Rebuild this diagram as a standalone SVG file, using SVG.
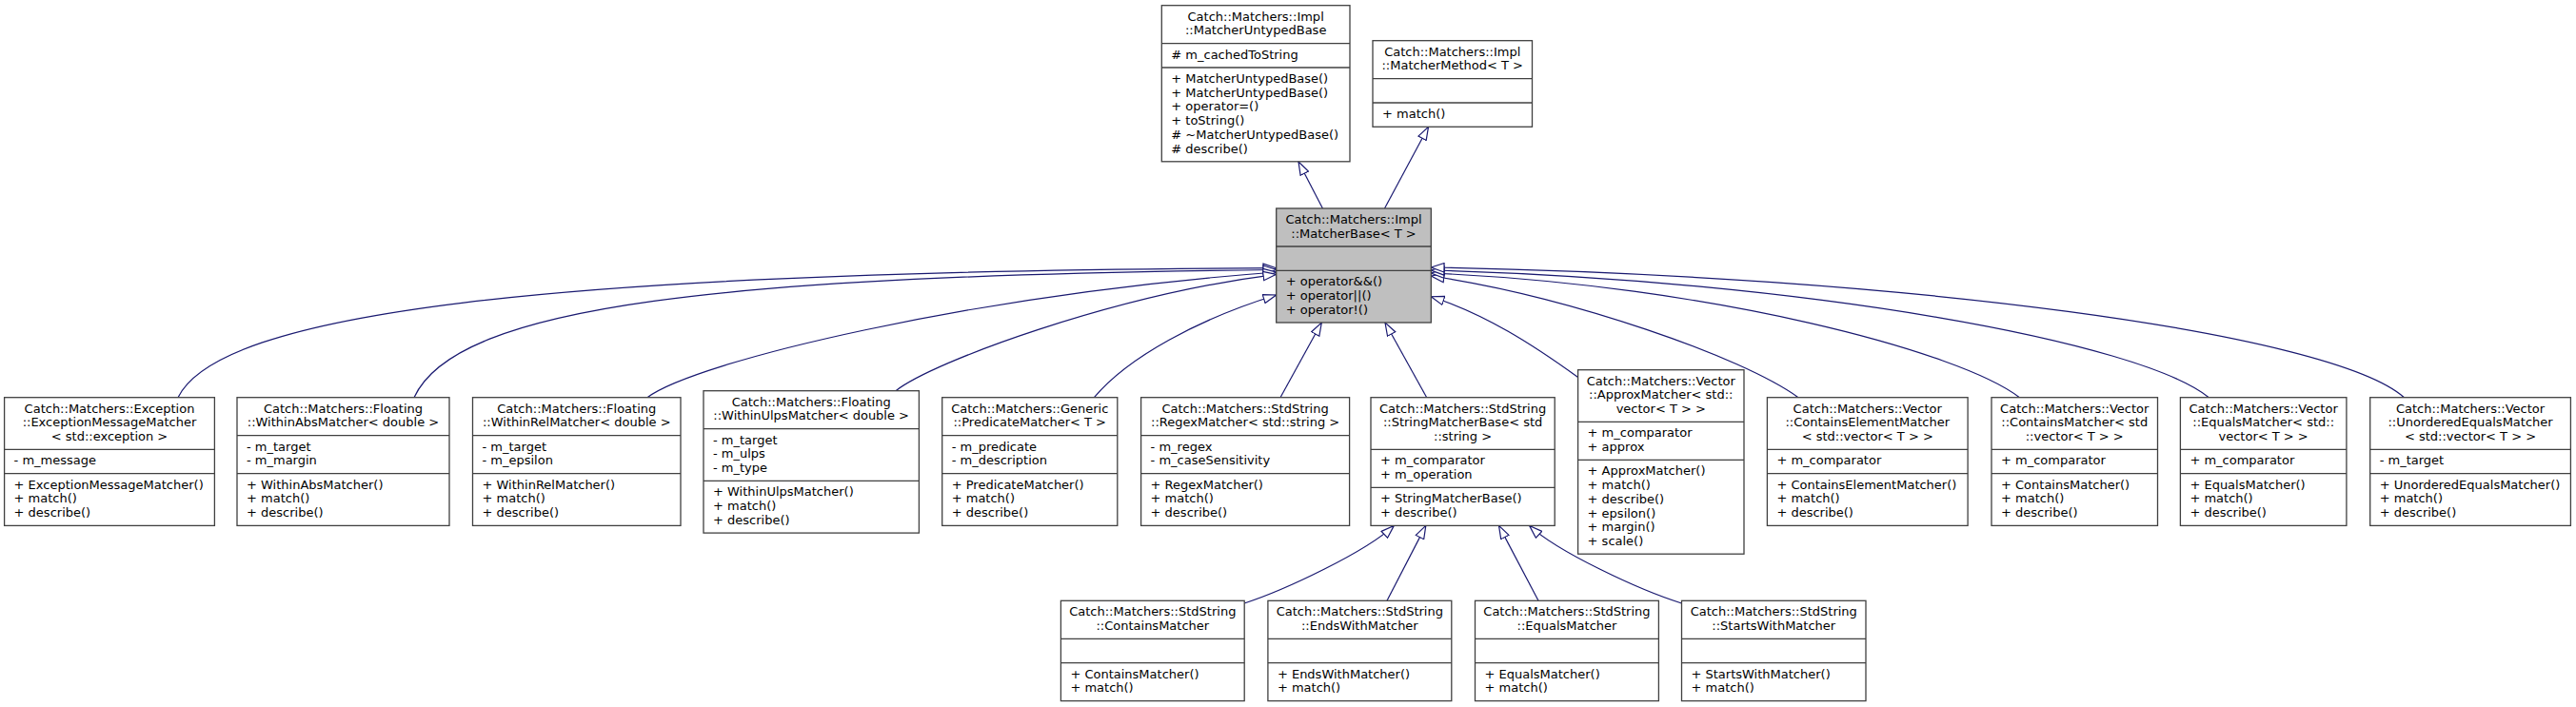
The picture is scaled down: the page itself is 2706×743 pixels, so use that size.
<svg xmlns="http://www.w3.org/2000/svg" width="2706" height="743" viewBox="0 0 2706 743">
<style>
rect{fill:#fff;stroke:#404040;stroke-width:1.3}
rect.hl{fill:#bfbfbf}
line.s{stroke:#404040;stroke-width:1.3}
text{font-family:"DejaVu Sans","Liberation Sans",sans-serif;font-size:13px;fill:#000}
text.c{text-anchor:middle}
.e path{fill:none;stroke:#191970;stroke-width:1.2;marker-end:url(#tri)}
</style>
<defs>
<marker id="tri" viewBox="0 0 15 11" refX="14.3" refY="5.5" markerWidth="15" markerHeight="11" markerUnits="userSpaceOnUse" orient="auto">
<path d="M0.6,0.8 L14.3,5.5 L0.6,10.2 Z" fill="#fff" stroke="#191970" stroke-width="1.2"/>
</marker>
</defs>
<g class="e" id="edges">
<path d="M1389.4,219 L1364,170"/>
<path d="M1454.5,219 L1500.5,133.3"/>
<path d="M187,417.7 C230,330 560,285 1340.7,281.7"/>
<path d="M435,417.7 C480,320 760,290 1340.7,283.5"/>
<path d="M680,417.7 C730,380 1020,310 1340.7,286"/>
<path d="M941,410.7 C980,380 1170,310 1340.7,288.3"/>
<path d="M1149.4,417.7 C1185,375 1260,335 1340.7,310"/>
<path d="M1345,417.7 L1388.3,339"/>
<path d="M1498.7,417.7 L1455,339"/>
<path d="M1657.6,396.5 C1610,362 1560,330 1503.3,311.7"/>
<path d="M1889,417.7 C1830,375 1650,312 1503.3,290"/>
<path d="M2121.4,417.7 C2060,370 1800,300 1503.3,287"/>
<path d="M2320.3,417.7 C2250,360 1900,295 1503.3,284"/>
<path d="M2525.5,417.7 C2450,350 2000,290 1503.3,281"/>
<path d="M1307.2,634 C1350,620 1435,580 1464.3,552.4"/>
<path d="M1457,631.3 L1497.8,552.4"/>
<path d="M1616,631.3 L1574.5,552.4"/>
<path d="M1766.5,634 C1722,620 1636,580 1606.6,552.4"/>
</g>

<g id="MatcherUntypedBase">
<rect x="1220.3" y="5.7" width="197.7" height="164.1"/>
<line class="s" x1="1220.3" y1="45.7" x2="1418" y2="45.7"/>
<line class="s" x1="1220.3" y1="71" x2="1418" y2="71"/>
<text class="c" x="1319.15" y="21.7">Catch::Matchers::Impl</text>
<text class="c" x="1319.15" y="36.4">::MatcherUntypedBase</text>
<text x="1230.3" y="61.7"># m_cachedToString</text>
<text x="1230.3" y="87">+ MatcherUntypedBase()</text>
<text x="1230.3" y="101.7">+ MatcherUntypedBase()</text>
<text x="1230.3" y="116.4">+ operator=()</text>
<text x="1230.3" y="131.1">+ toString()</text>
<text x="1230.3" y="145.8"># ~MatcherUntypedBase()</text>
<text x="1230.3" y="160.5"># describe()</text>
</g>

<g id="MatcherMethod">
<rect x="1442" y="42.7" width="167.5" height="90.6"/>
<line class="s" x1="1442" y1="82.7" x2="1609.5" y2="82.7"/>
<line class="s" x1="1442" y1="108" x2="1609.5" y2="108"/>
<text class="c" x="1525.75" y="58.7">Catch::Matchers::Impl</text>
<text class="c" x="1525.75" y="73.4">::MatcherMethod&lt; T &gt;</text>
<text x="1452" y="124">+ match()</text>
</g>

<g id="MatcherBase">
<rect class="hl" x="1340.7" y="219" width="162.6" height="120"/>
<line class="s" x1="1340.7" y1="259" x2="1503.3" y2="259"/>
<line class="s" x1="1340.7" y1="284.3" x2="1503.3" y2="284.3"/>
<text class="c" x="1422" y="235">Catch::Matchers::Impl</text>
<text class="c" x="1422" y="249.7">::MatcherBase&lt; T &gt;</text>
<text x="1350.7" y="300.3">+ operator&amp;&amp;()</text>
<text x="1350.7" y="315">+ operator||()</text>
<text x="1350.7" y="329.7">+ operator!()</text>
</g>

<g id="ExceptionMessageMatcher">
<rect x="4.6" y="417.7" width="220.8" height="134.7"/>
<line class="s" x1="4.6" y1="472.4" x2="225.4" y2="472.4"/>
<line class="s" x1="4.6" y1="497.7" x2="225.4" y2="497.7"/>
<text class="c" x="115" y="433.7">Catch::Matchers::Exception</text>
<text class="c" x="115" y="448.4">::ExceptionMessageMatcher</text>
<text class="c" x="115" y="463.1">&lt; std::exception &gt;</text>
<text x="14.6" y="488.4">- m_message</text>
<text x="14.6" y="513.7">+ ExceptionMessageMatcher()</text>
<text x="14.6" y="528.4">+ match()</text>
<text x="14.6" y="543.1">+ describe()</text>
</g>

<g id="WithinAbsMatcher">
<rect x="249" y="417.7" width="223" height="134.7"/>
<line class="s" x1="249" y1="457.7" x2="472" y2="457.7"/>
<line class="s" x1="249" y1="497.7" x2="472" y2="497.7"/>
<text class="c" x="360.5" y="433.7">Catch::Matchers::Floating</text>
<text class="c" x="360.5" y="448.4">::WithinAbsMatcher&lt; double &gt;</text>
<text x="259" y="473.7">- m_target</text>
<text x="259" y="488.4">- m_margin</text>
<text x="259" y="513.7">+ WithinAbsMatcher()</text>
<text x="259" y="528.4">+ match()</text>
<text x="259" y="543.1">+ describe()</text>
</g>

<g id="WithinRelMatcher">
<rect x="496.5" y="417.7" width="218.5" height="134.7"/>
<line class="s" x1="496.5" y1="457.7" x2="715" y2="457.7"/>
<line class="s" x1="496.5" y1="497.7" x2="715" y2="497.7"/>
<text class="c" x="605.75" y="433.7">Catch::Matchers::Floating</text>
<text class="c" x="605.75" y="448.4">::WithinRelMatcher&lt; double &gt;</text>
<text x="506.5" y="473.7">- m_target</text>
<text x="506.5" y="488.4">- m_epsilon</text>
<text x="506.5" y="513.7">+ WithinRelMatcher()</text>
<text x="506.5" y="528.4">+ match()</text>
<text x="506.5" y="543.1">+ describe()</text>
</g>

<g id="WithinUlpsMatcher">
<rect x="739" y="410.7" width="226.4" height="149.4"/>
<line class="s" x1="739" y1="450.7" x2="965.4" y2="450.7"/>
<line class="s" x1="739" y1="505.4" x2="965.4" y2="505.4"/>
<text class="c" x="852.2" y="426.7">Catch::Matchers::Floating</text>
<text class="c" x="852.2" y="441.4">::WithinUlpsMatcher&lt; double &gt;</text>
<text x="749" y="466.7">- m_target</text>
<text x="749" y="481.4">- m_ulps</text>
<text x="749" y="496.1">- m_type</text>
<text x="749" y="521.4">+ WithinUlpsMatcher()</text>
<text x="749" y="536.1">+ match()</text>
<text x="749" y="550.8">+ describe()</text>
</g>

<g id="PredicateMatcher">
<rect x="989.7" y="417.7" width="184.1" height="134.7"/>
<line class="s" x1="989.7" y1="457.7" x2="1173.8" y2="457.7"/>
<line class="s" x1="989.7" y1="497.7" x2="1173.8" y2="497.7"/>
<text class="c" x="1081.75" y="433.7">Catch::Matchers::Generic</text>
<text class="c" x="1081.75" y="448.4">::PredicateMatcher&lt; T &gt;</text>
<text x="999.7" y="473.7">- m_predicate</text>
<text x="999.7" y="488.4">- m_description</text>
<text x="999.7" y="513.7">+ PredicateMatcher()</text>
<text x="999.7" y="528.4">+ match()</text>
<text x="999.7" y="543.1">+ describe()</text>
</g>

<g id="RegexMatcher">
<rect x="1198.6" y="417.7" width="219" height="134.7"/>
<line class="s" x1="1198.6" y1="457.7" x2="1417.6" y2="457.7"/>
<line class="s" x1="1198.6" y1="497.7" x2="1417.6" y2="497.7"/>
<text class="c" x="1308.1" y="433.7">Catch::Matchers::StdString</text>
<text class="c" x="1308.1" y="448.4">::RegexMatcher&lt; std::string &gt;</text>
<text x="1208.6" y="473.7">- m_regex</text>
<text x="1208.6" y="488.4">- m_caseSensitivity</text>
<text x="1208.6" y="513.7">+ RegexMatcher()</text>
<text x="1208.6" y="528.4">+ match()</text>
<text x="1208.6" y="543.1">+ describe()</text>
</g>

<g id="StringMatcherBase">
<rect x="1440" y="417.7" width="193.2" height="134.7"/>
<line class="s" x1="1440" y1="472.4" x2="1633.2" y2="472.4"/>
<line class="s" x1="1440" y1="512.4" x2="1633.2" y2="512.4"/>
<text class="c" x="1536.6" y="433.7">Catch::Matchers::StdString</text>
<text class="c" x="1536.6" y="448.4">::StringMatcherBase&lt; std</text>
<text class="c" x="1536.6" y="463.1">::string &gt;</text>
<text x="1450" y="488.4">+ m_comparator</text>
<text x="1450" y="503.1">+ m_operation</text>
<text x="1450" y="528.4">+ StringMatcherBase()</text>
<text x="1450" y="543.1">+ describe()</text>
</g>

<g id="ApproxMatcher">
<rect x="1657.6" y="388.7" width="174.4" height="193.5"/>
<line class="s" x1="1657.6" y1="443.4" x2="1832" y2="443.4"/>
<line class="s" x1="1657.6" y1="483.4" x2="1832" y2="483.4"/>
<text class="c" x="1744.8" y="404.7">Catch::Matchers::Vector</text>
<text class="c" x="1744.8" y="419.4">::ApproxMatcher&lt; std::</text>
<text class="c" x="1744.8" y="434.1">vector&lt; T &gt; &gt;</text>
<text x="1667.6" y="459.4">+ m_comparator</text>
<text x="1667.6" y="474.1">+ approx</text>
<text x="1667.6" y="499.4">+ ApproxMatcher()</text>
<text x="1667.6" y="514.1">+ match()</text>
<text x="1667.6" y="528.8">+ describe()</text>
<text x="1667.6" y="543.5">+ epsilon()</text>
<text x="1667.6" y="558.2">+ margin()</text>
<text x="1667.6" y="572.9">+ scale()</text>
</g>

<g id="ContainsElementMatcher">
<rect x="1856.4" y="417.7" width="210.7" height="134.7"/>
<line class="s" x1="1856.4" y1="472.4" x2="2067.1" y2="472.4"/>
<line class="s" x1="1856.4" y1="497.7" x2="2067.1" y2="497.7"/>
<text class="c" x="1961.75" y="433.7">Catch::Matchers::Vector</text>
<text class="c" x="1961.75" y="448.4">::ContainsElementMatcher</text>
<text class="c" x="1961.75" y="463.1">&lt; std::vector&lt; T &gt; &gt;</text>
<text x="1866.4" y="488.4">+ m_comparator</text>
<text x="1866.4" y="513.7">+ ContainsElementMatcher()</text>
<text x="1866.4" y="528.4">+ match()</text>
<text x="1866.4" y="543.1">+ describe()</text>
</g>

<g id="VectorContainsMatcher">
<rect x="2092" y="417.7" width="174.5" height="134.7"/>
<line class="s" x1="2092" y1="472.4" x2="2266.5" y2="472.4"/>
<line class="s" x1="2092" y1="497.7" x2="2266.5" y2="497.7"/>
<text class="c" x="2179.25" y="433.7">Catch::Matchers::Vector</text>
<text class="c" x="2179.25" y="448.4">::ContainsMatcher&lt; std</text>
<text class="c" x="2179.25" y="463.1">::vector&lt; T &gt; &gt;</text>
<text x="2102" y="488.4">+ m_comparator</text>
<text x="2102" y="513.7">+ ContainsMatcher()</text>
<text x="2102" y="528.4">+ match()</text>
<text x="2102" y="543.1">+ describe()</text>
</g>

<g id="VectorEqualsMatcher">
<rect x="2290.4" y="417.7" width="174.5" height="134.7"/>
<line class="s" x1="2290.4" y1="472.4" x2="2464.9" y2="472.4"/>
<line class="s" x1="2290.4" y1="497.7" x2="2464.9" y2="497.7"/>
<text class="c" x="2377.65" y="433.7">Catch::Matchers::Vector</text>
<text class="c" x="2377.65" y="448.4">::EqualsMatcher&lt; std::</text>
<text class="c" x="2377.65" y="463.1">vector&lt; T &gt; &gt;</text>
<text x="2300.4" y="488.4">+ m_comparator</text>
<text x="2300.4" y="513.7">+ EqualsMatcher()</text>
<text x="2300.4" y="528.4">+ match()</text>
<text x="2300.4" y="543.1">+ describe()</text>
</g>

<g id="UnorderedEqualsMatcher">
<rect x="2489.7" y="417.7" width="210.7" height="134.7"/>
<line class="s" x1="2489.7" y1="472.4" x2="2700.4" y2="472.4"/>
<line class="s" x1="2489.7" y1="497.7" x2="2700.4" y2="497.7"/>
<text class="c" x="2595.05" y="433.7">Catch::Matchers::Vector</text>
<text class="c" x="2595.05" y="448.4">::UnorderedEqualsMatcher</text>
<text class="c" x="2595.05" y="463.1">&lt; std::vector&lt; T &gt; &gt;</text>
<text x="2499.7" y="488.4">- m_target</text>
<text x="2499.7" y="513.7">+ UnorderedEqualsMatcher()</text>
<text x="2499.7" y="528.4">+ match()</text>
<text x="2499.7" y="543.1">+ describe()</text>
</g>

<g id="StdStringContainsMatcher">
<rect x="1114.4" y="631.3" width="192.8" height="105.3"/>
<line class="s" x1="1114.4" y1="671.3" x2="1307.2" y2="671.3"/>
<line class="s" x1="1114.4" y1="696.6" x2="1307.2" y2="696.6"/>
<text class="c" x="1210.8" y="647.3">Catch::Matchers::StdString</text>
<text class="c" x="1210.8" y="662">::ContainsMatcher</text>
<text x="1124.4" y="712.6">+ ContainsMatcher()</text>
<text x="1124.4" y="727.3">+ match()</text>
</g>

<g id="EndsWithMatcher">
<rect x="1331.9" y="631.3" width="192.9" height="105.3"/>
<line class="s" x1="1331.9" y1="671.3" x2="1524.8" y2="671.3"/>
<line class="s" x1="1331.9" y1="696.6" x2="1524.8" y2="696.6"/>
<text class="c" x="1428.35" y="647.3">Catch::Matchers::StdString</text>
<text class="c" x="1428.35" y="662">::EndsWithMatcher</text>
<text x="1341.9" y="712.6">+ EndsWithMatcher()</text>
<text x="1341.9" y="727.3">+ match()</text>
</g>

<g id="StdStringEqualsMatcher">
<rect x="1549.5" y="631.3" width="192.9" height="105.3"/>
<line class="s" x1="1549.5" y1="671.3" x2="1742.4" y2="671.3"/>
<line class="s" x1="1549.5" y1="696.6" x2="1742.4" y2="696.6"/>
<text class="c" x="1645.95" y="647.3">Catch::Matchers::StdString</text>
<text class="c" x="1645.95" y="662">::EqualsMatcher</text>
<text x="1559.5" y="712.6">+ EqualsMatcher()</text>
<text x="1559.5" y="727.3">+ match()</text>
</g>

<g id="StartsWithMatcher">
<rect x="1766.5" y="631.3" width="193.5" height="105.3"/>
<line class="s" x1="1766.5" y1="671.3" x2="1960" y2="671.3"/>
<line class="s" x1="1766.5" y1="696.6" x2="1960" y2="696.6"/>
<text class="c" x="1863.25" y="647.3">Catch::Matchers::StdString</text>
<text class="c" x="1863.25" y="662">::StartsWithMatcher</text>
<text x="1776.5" y="712.6">+ StartsWithMatcher()</text>
<text x="1776.5" y="727.3">+ match()</text>
</g>
</svg>
